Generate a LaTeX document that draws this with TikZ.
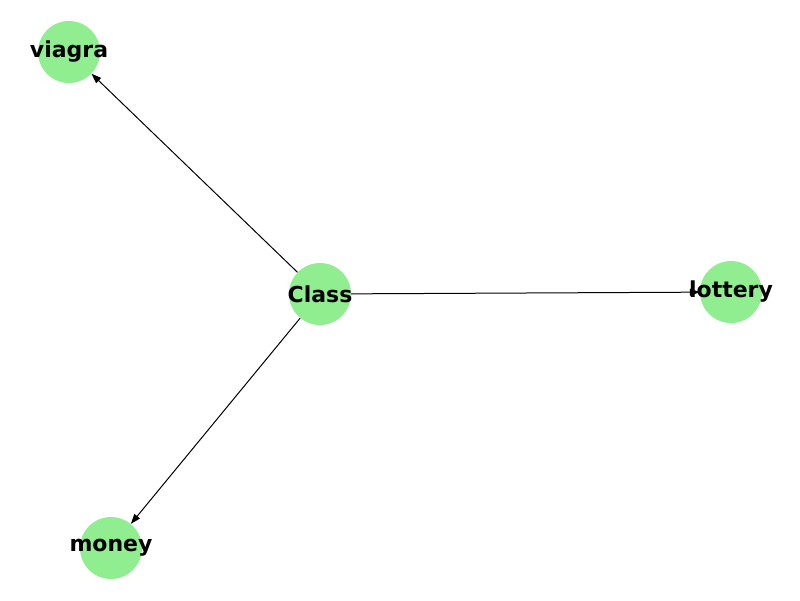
\documentclass[tikz,border=0pt]{standalone}
\usepackage{fontspec}
\setmainfont{DejaVu Sans}
\usetikzlibrary{arrows.meta, positioning, backgrounds}

\begin{document}
\begin{tikzpicture}[x=1pt, y=-1pt, >={Triangle[length=10pt, width=7pt]},
    main node/.style={circle, fill={rgb,255:red,144;green,238;blue,144}, minimum size=62pt, inner sep=0pt, font=\fontsize{22}{26}\selectfont\bfseries},
    link/.style={->, line width=1pt, draw=black}]

    \useasboundingbox (0,0) rectangle (800,600);

    % Nodes
    \node[main node] (C) at (320,294) {\makebox[0pt]{Class}};
    \node[main node] (V) at (69,52) {\makebox[0pt]{viagra}};
    \node[main node] (L) at (731,292) {\makebox[0pt]{lottery}};
    \node[main node] (M) at (111,548) {\makebox[0pt]{money}};

    % Arrows between nodes
    \begin{scope}[on background layer]
    \path (C) edge[link] (V);
    \path (C) edge[link] (L);
    \path (C) edge[link] (M);
    \end{scope}

\end{tikzpicture}
\end{document}
